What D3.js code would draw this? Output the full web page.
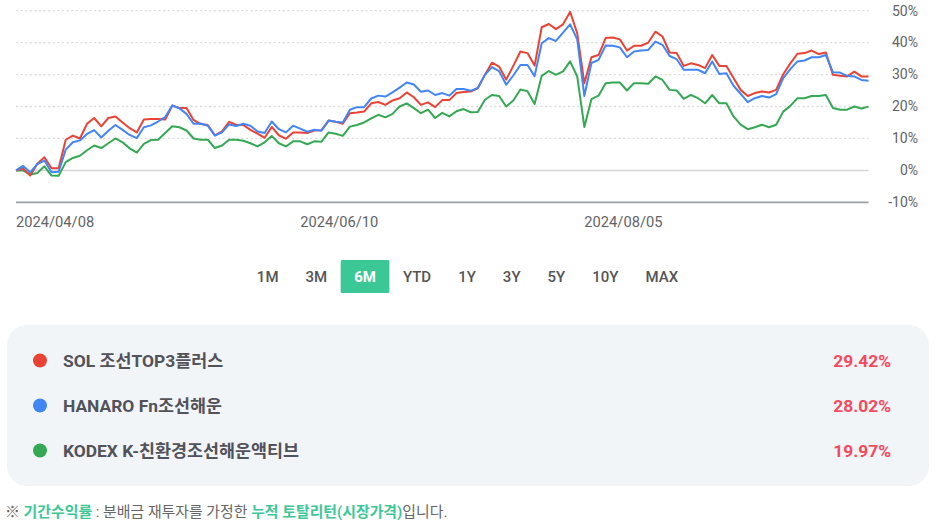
<!DOCTYPE html>
<html lang="ko">
<head>
<meta charset="utf-8">
<script src="https://cdn.jsdelivr.net/npm/d3@7"></script>
<style>
  body { margin: 0; background: #fff; }
  svg { display: block; font-family: Roboto, "Noto Sans CJK KR", sans-serif; }
</style>
</head>
<body>
<svg id="chart" width="940" height="527"></svg>
<script>
// cumulative total return (%) per trading day, 6M window
const seriesNames = ['SOL 조선TOP3플러스', 'HANARO Fn조선해운', 'KODEX K-친환경조선해운액티브'];

const solTop3 = [0, 0.6, -1.6, 2.1, 4.1, 0.7, 0.7, 9.6, 10.9, 10.0,
  14.6, 16.4, 13.8, 16.4, 16.9, 15.0, 13.2, 11.9, 15.9, 16.1,
  16.1, 15.9, 20.3, 19.5, 19.5, 15.8, 14.5, 14.2, 11.0, 12.2,
  15.2, 14.3, 14.2, 12.7, 11.5, 10.2, 13.6, 11.0, 9.9, 11.9,
  11.9, 11.7, 12.5, 12.6, 15.6, 15.2, 14.6, 17.9, 18.1, 18.4,
  21.0, 21.4, 20.5, 21.9, 22.6, 24.4, 22.9, 20.5, 21.3, 19.8,
  22.0, 22.0, 24.2, 24.5, 24.7, 25.7, 29.9, 33.7, 32.5, 28.4,
  32.7, 37.2, 36.7, 32.8, 44.8, 45.8, 44.2, 45.7, 49.6, 42.9,
  27.3, 35.4, 36.1, 41.4, 41.6, 41.0, 37.5, 39.0, 39.0, 40.0,
  43.4, 41.9, 36.9, 36.7, 32.7, 33.5, 33.0, 32.0, 36.1, 32.7,
  32.7, 28.9, 25.2, 23.3, 24.2, 24.7, 24.4, 25.2, 30.1, 33.5,
  36.5, 36.7, 37.5, 36.4, 36.9, 29.9, 29.6, 29.4, 30.9, 29.4,
  29.42];

const hanaroFn = [0, 1.4, -0.6, 2.0, 3.1, -0.6, -0.4, 6.5, 8.8, 9.4,
  11.4, 12.6, 10.3, 12.4, 14.2, 12.7, 11.1, 10.1, 13.5, 14.1,
  15.3, 16.7, 20.3, 19.4, 17.7, 14.6, 14.7, 14.0, 10.9, 11.9,
  14.4, 13.9, 14.6, 14.0, 12.2, 11.7, 15.3, 12.9, 11.9, 14.0,
  13.1, 12.1, 12.7, 12.4, 15.6, 15.2, 15.0, 19.0, 19.8, 19.8,
  22.5, 23.4, 23.1, 24.4, 25.9, 27.5, 26.9, 24.6, 25.0, 23.6,
  24.2, 23.4, 25.5, 25.5, 24.9, 25.8, 29.9, 32.3, 31.1, 26.8,
  29.7, 33.0, 33.0, 29.5, 39.8, 41.4, 40.5, 43.1, 45.7, 41.0,
  23.3, 33.6, 34.6, 39.1, 39.0, 38.5, 35.4, 37.2, 37.5, 37.7,
  40.3, 39.3, 35.8, 34.8, 31.5, 31.5, 31.5, 30.4, 34.1, 30.2,
  30.4, 26.5, 24.0, 21.4, 22.6, 23.3, 22.8, 23.9, 28.9, 31.7,
  34.1, 34.4, 35.4, 35.4, 36.1, 30.7, 30.6, 29.6, 29.4, 28.3,
  28.02];

const kodexK = [0, 0, -1.3, -0.8, 1.3, -1.6, -1.7, 2.6, 3.9, 4.6,
  6.3, 7.8, 7.0, 8.5, 10.0, 8.8, 6.9, 5.6, 8.3, 9.5,
  9.6, 11.7, 13.8, 13.5, 12.5, 10.0, 9.6, 9.6, 7.0, 7.8,
  9.6, 9.6, 9.3, 8.5, 7.5, 8.8, 10.8, 8.5, 7.5, 9.1,
  9.1, 8.2, 9.1, 9.0, 11.9, 11.5, 10.8, 13.7, 14.2, 15.0,
  16.3, 17.4, 16.6, 17.7, 20.0, 21.0, 19.5, 17.9, 19.0, 16.4,
  18.0, 16.9, 18.5, 19.2, 18.2, 18.3, 22.1, 23.6, 23.3, 20.0,
  21.9, 25.3, 24.8, 20.8, 29.6, 31.1, 29.9, 31.0, 34.1, 29.4,
  13.6, 22.3, 23.4, 27.3, 27.5, 27.5, 25.0, 27.3, 27.3, 27.1,
  29.4, 28.3, 25.2, 25.0, 22.4, 23.6, 22.6, 21.0, 23.6, 21.0,
  21.0, 16.9, 14.3, 12.9, 13.5, 14.3, 13.5, 14.3, 18.4, 20.2,
  22.6, 22.6, 23.3, 23.3, 23.6, 19.5, 19.0, 19.0, 20.0, 19.4,
  19.97];

const xTickIdx = [0, 40, 80];
const xTickLabels = ['2024/04/08', '2024/06/10', '2024/08/05'];
const yTicks = [50, 40, 30, 20, 10, 0, -10];
const periods = ['1M', '3M', '6M', 'YTD', '1Y', '3Y', '5Y', '10Y', 'MAX'];
const activePeriod = '6M';

const lineColors = ['#ea4335', '#4285f4', '#34a853'];
const green = '#3cc796';

const svg = d3.select('#chart');
const allSeries = [solTop3, hanaroFn, kodexK];

//------------------------------SCALES-------------------------------------
const x = d3.scaleLinear().domain([0, solTop3.length - 1]).range([16, 868.5]);
const y = d3.scaleLinear().domain([-10, 50]).range([202.4, 10.6]);

//------------------------------GRID + AXES-------------------------------------
const grid = svg.append('g');

grid.selectAll('line')
  .data(yTicks)
  .join('line')
  .attr('x1', x.range()[0])
  .attr('x2', x.range()[1])
  .attr('y1', d => y(d))
  .attr('y2', d => y(d))
  .attr('stroke', d => d === -10 ? '#9aa0a6' : (d === 0 ? '#d6d6d6' : '#dcdcdc'))
  .attr('stroke-width', d => d <= 0 ? 1.6 : 1.3)
  .attr('stroke-dasharray', d => d > 0 ? '2,2.6' : null);

svg.append('g')
  .selectAll('text')
  .data(yTicks)
  .join('text')
  .attr('x', 918)
  .attr('y', d => y(d))
  .attr('dy', '0.35em')
  .attr('text-anchor', 'end')
  .attr('font-size', 14)
  .attr('fill', '#5f6368')
  .text(d => d + '%');

svg.append('g')
  .selectAll('text')
  .data(xTickIdx)
  .join('text')
  .attr('x', d => x(d))
  .attr('y', 226.5)
  .attr('font-size', 14.7)
  .attr('fill', '#5f6368')
  .text((d, i) => xTickLabels[i]);

//------------------------------LINES-------------------------------------
const line = d3.line()
  .x((d, i) => x(i))
  .y(d => y(d));

// green underneath, then red, blue on top
[2, 0, 1].forEach(k => {
  svg.append('path')
    .datum(allSeries[k])
    .attr('fill', 'none')
    .attr('stroke', lineColors[k])
    .attr('stroke-width', 2)
    .attr('stroke-linejoin', 'round')
    .attr('d', line);
});

//------------------------------PERIOD BUTTONS-------------------------------------
const btnG = svg.append('g');
const pad = 13.5;
let bx = 0;

const btns = periods.map(p => {
  const g = btnG.append('g');
  const rect = g.append('rect');
  const t = g.append('text')
    .attr('font-size', 15)
    .attr('font-weight', p === activePeriod ? 700 : 500)
    .attr('fill', p === activePeriod ? '#fff' : '#555')
    .attr('text-anchor', 'middle')
    .text(p);
  const w = t.node().getComputedTextLength() + pad * 2;
  const item = { g, rect, t, w, x0: bx, p };
  bx += w;
  return item;
});

const startX = 467.5 - bx / 2;
btns.forEach(b => {
  b.g.attr('transform', `translate(${startX + b.x0},0)`);
  b.t.attr('x', b.w / 2).attr('y', 281.5);
  b.rect
    .attr('x', 0).attr('y', 260)
    .attr('width', b.w).attr('height', 33)
    .attr('rx', 1.5)
    .attr('fill', b.p === activePeriod ? green : 'none');
});

//------------------------------LEGEND PANEL-------------------------------------
svg.append('rect')
  .attr('x', 7).attr('y', 325)
  .attr('width', 922).attr('height', 161)
  .attr('rx', 20)
  .attr('fill', '#f2f5f8');

const rowY = d3.scalePoint().domain(d3.range(seriesNames.length)).range([360.5, 450.5]);
const fmt = d3.format('.2f');

const rows = svg.append('g')
  .selectAll('g')
  .data(seriesNames)
  .join('g')
  .attr('transform', (d, i) => `translate(0,${rowY(i)})`);

rows.append('circle')
  .attr('cx', 40).attr('cy', 0).attr('r', 7)
  .attr('fill', (d, i) => lineColors[i]);

rows.append('text')
  .attr('x', 63).attr('y', 6)
  .attr('font-size', 17.4)
  .attr('font-weight', 700)
  .attr('fill', '#52525a')
  .text(d => d);

rows.append('text')
  .attr('x', 891).attr('y', 6)
  .attr('text-anchor', 'end')
  .attr('font-size', 17.4)
  .attr('font-weight', 700)
  .attr('fill', '#f24a5e')
  .text((d, i) => fmt(allSeries[i][allSeries[i].length - 1]) + '%');

//------------------------------FOOTNOTE-------------------------------------
const note = svg.append('text')
  .attr('x', 5).attr('y', 516.5)
  .attr('font-size', 14.9)
  .attr('fill', '#666');

[['※ ', false], ['기간수익률', true], [' : 분배금 재투자를 가정한 ', false],
 ['누적 토탈리턴(시장가격)', true], ['입니다.', false]].forEach(([s, hl]) => {
  note.append('tspan')
    .attr('fill', hl ? green : '#666')
    .attr('font-weight', hl ? 700 : 400)
    .text(s);
});
</script>
</body>
</html>
